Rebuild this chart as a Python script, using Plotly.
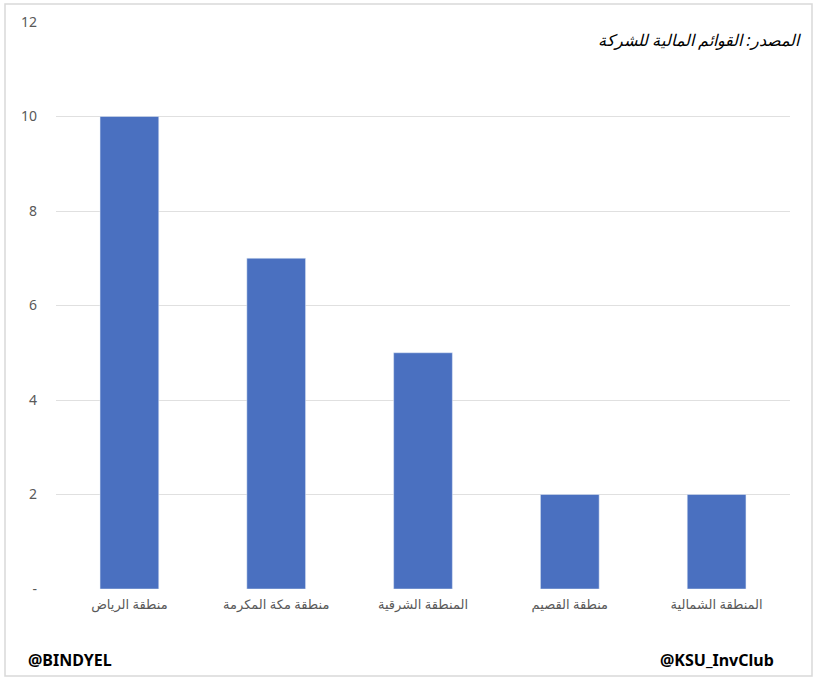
import plotly.graph_objects as go

regions = ["منطقة الرياض", "منطقة مكة المكرمة", "المنطقة الشرقية", "منطقة القصيم", "المنطقة الشمالية"]
values = [10, 7, 5, 2, 2]
y_ticks = [0, 2, 4, 6, 8, 10, 12]
y_tick_text = ["-", "2", "4", "6", "8", "10", "12"]

W, H = 817, 680
L, R, T, B = 56, 27, 22, 91
pw, ph = W - L - R, H - T - B

def px(x):
    return (x - L) / pw

def py(y):
    return (H - B - y) / ph

fig = go.Figure(go.Bar(x=regions, y=values, marker_color="#4a70c0", width=0.4))

fig.update_layout(
    width=W, height=H,
    margin=dict(l=L, r=R, t=T, b=B),
    paper_bgcolor="white", plot_bgcolor="white",
    showlegend=False,
    font=dict(family="Noto Sans, DejaVu Sans", color="#595959"),
    xaxis=dict(showgrid=False, showline=False, zeroline=False,
               tickfont=dict(size=13, color="#595959"), ticklabelstandoff=6),
    yaxis=dict(range=[0, 12], tickvals=y_ticks, ticktext=y_tick_text,
               showgrid=True, gridcolor="#e0e0e0", gridwidth=1,
               zeroline=False, showline=False,
               tickfont=dict(size=14, color="#595959"), ticklabelstandoff=18),
    shapes=[dict(type="rect", xref="paper", yref="paper",
                 x0=px(5), x1=px(812), y0=py(676), y1=py(4),
                 line=dict(color="#d9d9d9", width=1.5), layer="below")],
    annotations=[
        dict(text="<i>المصدر: القوائم المالية للشركة</i>", xref="paper", yref="paper",
             x=px(803), y=py(40), xanchor="right", yanchor="middle", showarrow=False,
             font=dict(size=16, color="black")),
        dict(text="<b>@BINDYEL</b>", xref="paper", yref="paper",
             x=px(26), y=py(660), xanchor="left", yanchor="middle", showarrow=False,
             font=dict(size=16, color="black")),
        dict(text="<b>@KSU_InvClub</b>", xref="paper", yref="paper",
             x=px(776), y=py(660), xanchor="right", yanchor="middle", showarrow=False,
             font=dict(size=16, color="black")),
    ],
)

fig.write_html("out.html", config={"displayModeBar": False})

with open("out.html", "r", encoding="utf-8") as f:
    html = f.read()
html = html.replace("<head>", "<head><style>html,body{margin:0;padding:0;overflow:hidden;}</style>", 1)
with open("out.html", "w", encoding="utf-8") as f:
    f.write(html)
